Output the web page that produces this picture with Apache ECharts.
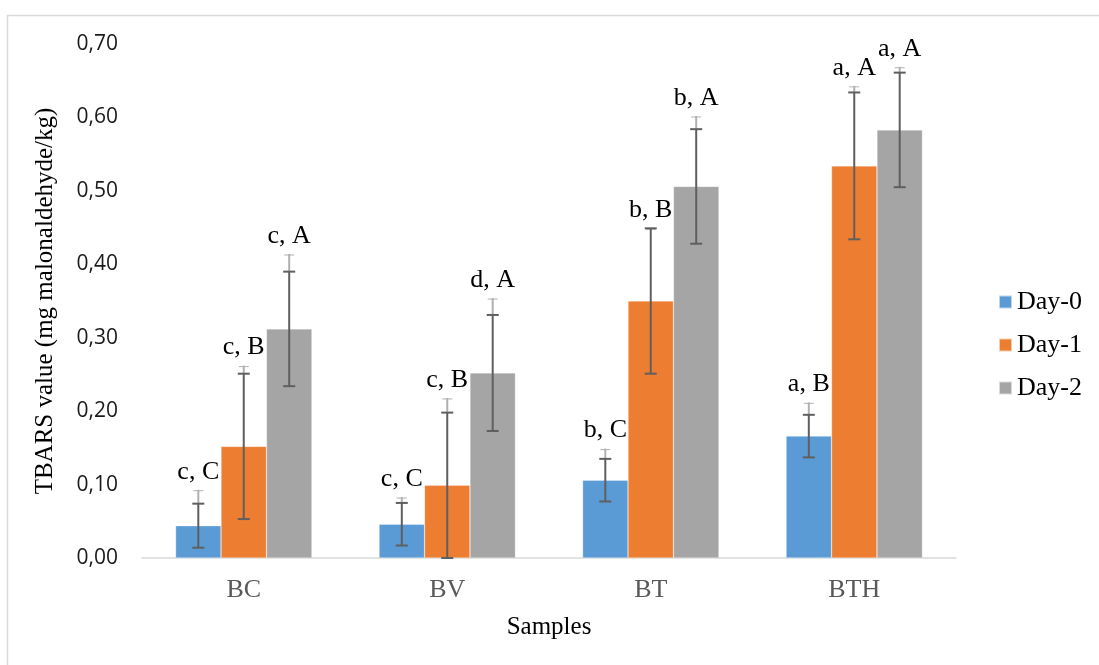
<!DOCTYPE html>
<html>
<head>
<meta charset="utf-8">
<script src="https://cdn.jsdelivr.net/npm/echarts@6/dist/echarts.min.js"></script>
<style>
html,body{margin:0;padding:0;background:#fff;}
#chart{width:1099px;height:665px;}
</style>
</head>
<body>
<div id="chart"></div>
<script>
// ---- data ----
var categories = ['BC', 'BV', 'BT', 'BTH'];
var seriesNames = ['Day-0', 'Day-1', 'Day-2'];
var day0 = [0.044, 0.046, 0.106, 0.166];
var day1 = [0.152, 0.099, 0.350, 0.534];
var day2 = [0.312, 0.252, 0.506, 0.583];
// standard deviation (dark error bar)
var sd0 = [0.030, 0.029, 0.029, 0.029];
var sd1 = [0.099, 0.099, 0.099, 0.100];
var sd2 = [0.078, 0.079, 0.078, 0.078];
// upper end of the light error line
var top0 = [0.093, 0.083, 0.149, 0.212];
var top1 = [0.262, 0.218, 0.449, 0.643];
var top2 = [0.414, 0.354, 0.602, 0.669];
// significance letters
var lab0 = ['c, C', 'c, C', 'b, C', 'a, B'];
var lab1 = ['c, B', 'c, B', 'b, B', 'a, A'];
var lab2 = ['c, A', 'd, A', 'b, A', 'a, A'];
var yTicks = [0, 0.1, 0.2, 0.3, 0.4, 0.5, 0.6, 0.7];

var colors = ['#5B9BD5', '#ED7D31', '#A5A5A5'];
var means = [day0, day1, day2];
var sds = [sd0, sd1, sd2];
var tops = [top0, top1, top2];
var labs = [lab0, lab1, lab2];
var CAT_GAP = 0.33;
var SERIF = '"Liberation Serif", "DejaVu Serif", serif';

function makeErr(si) {
  var data = categories.map(function (c, i) {
    return [i, means[si][i], sds[si][i], tops[si][i], labs[si][i]];
  });
  return {
    type: 'custom',
    name: seriesNames[si] + ' err',
    z: 10,
    silent: true,
    encode: { x: 0, y: 1 },
    data: data,
    renderItem: function (params, api) {
      var idx = api.value(0);
      var m = api.value(1), s = api.value(2), t = api.value(3);
      var band = api.size([1, 0])[0];
      var bw = band * (1 - CAT_GAP) / 3;
      var x = api.coord([idx, m])[0] + (si - 1) * bw;
      var yHi = api.coord([idx, m + s])[1];
      var yLo = api.coord([idx, Math.max(0, m - s)])[1];
      var yTop = api.coord([idx, t])[1];
      var cap = 6;
      var dark = '#5f5f5f', light = '#b0b0b0';
      return {
        type: 'group',
        children: [
          { type: 'line', shape: { x1: x, y1: yTop, x2: x, y2: yHi }, style: { stroke: light, lineWidth: 2 } },
          { type: 'line', shape: { x1: x - 5, y1: yTop + 1, x2: x + 5, y2: yTop + 1 }, style: { stroke: light, lineWidth: 1 } },
          { type: 'line', shape: { x1: x, y1: yHi, x2: x, y2: yLo }, style: { stroke: dark, lineWidth: 2 } },
          { type: 'line', shape: { x1: x - cap, y1: yHi, x2: x + cap, y2: yHi }, style: { stroke: dark, lineWidth: 2 } },
          { type: 'line', shape: { x1: x - cap, y1: yLo, x2: x + cap, y2: yLo }, style: { stroke: dark, lineWidth: 2 } },
          { type: 'text', style: { x: x, y: yTop - 18, text: api.value(4), textAlign: 'center', textVerticalAlign: 'middle', fill: '#000', font: '26px ' + SERIF } }
        ]
      };
    }
  };
}

var series = [];
for (var k = 0; k < 3; k++) {
  series.push({
    type: 'bar',
    name: seriesNames[k],
    data: means[k],
    barGap: '0%',
    barCategoryGap: (CAT_GAP * 100) + '%',
    itemStyle: { color: colors[k], borderColor: 'rgba(255,255,255,0.6)', borderWidth: 0.5 }
  });
}
for (var k2 = 0; k2 < 3; k2++) series.push(makeErr(k2));

var chart = echarts.init(document.getElementById('chart'), null, { renderer: 'canvas' });
chart.setOption({
  backgroundColor: '#fff',
  animation: false,
  color: colors,
  grid: { left: 142, right: 143, top: 44, bottom: 107, containLabel: false },
  legend: {
    orient: 'vertical',
    left: 993,
    top: 284,
    itemWidth: 13,
    itemHeight: 13,
    itemGap: 17,
    icon: 'rect',
    data: seriesNames,
    textStyle: { fontFamily: SERIF, fontSize: 26, color: '#000', padding: [0, 0, 0, 0] }
  },
  xAxis: {
    type: 'category',
    data: categories,
    name: 'Samples',
    nameLocation: 'middle',
    nameGap: 57,
    nameTextStyle: { fontFamily: SERIF, fontSize: 25, color: '#000' },
    axisLine: { lineStyle: { color: '#d9d9d9', width: 1.5 } },
    axisTick: { show: false },
    axisLabel: { fontFamily: SERIF, fontSize: 26, color: '#595959', margin: 19 }
  },
  yAxis: {
    type: 'value',
    min: 0,
    max: 0.7,
    interval: 0.1,
    name: 'TBARS value (mg malonaldehyde/kg)',
    nameLocation: 'middle',
    nameGap: 84,
    nameTextStyle: { fontFamily: SERIF, fontSize: 25, color: '#000' },
    axisLine: { show: false },
    axisTick: { show: false },
    splitLine: { show: false },
    axisLabel: {
      fontFamily: '"Open Sans", "Liberation Sans", sans-serif',
      fontSize: 21,
      color: '#1a1a1a',
      margin: 24,
      formatter: function (v) { return v.toFixed(2).replace('.', ','); }
    }
  },
  graphic: [{
    type: 'rect',
    silent: true,
    shape: { x: 7.5, y: 15.5, width: 1300, height: 900 },
    style: { fill: 'none', stroke: '#d9d9d9', lineWidth: 1.5 }
  }],
  series: series
});
</script>
</body>
</html>
